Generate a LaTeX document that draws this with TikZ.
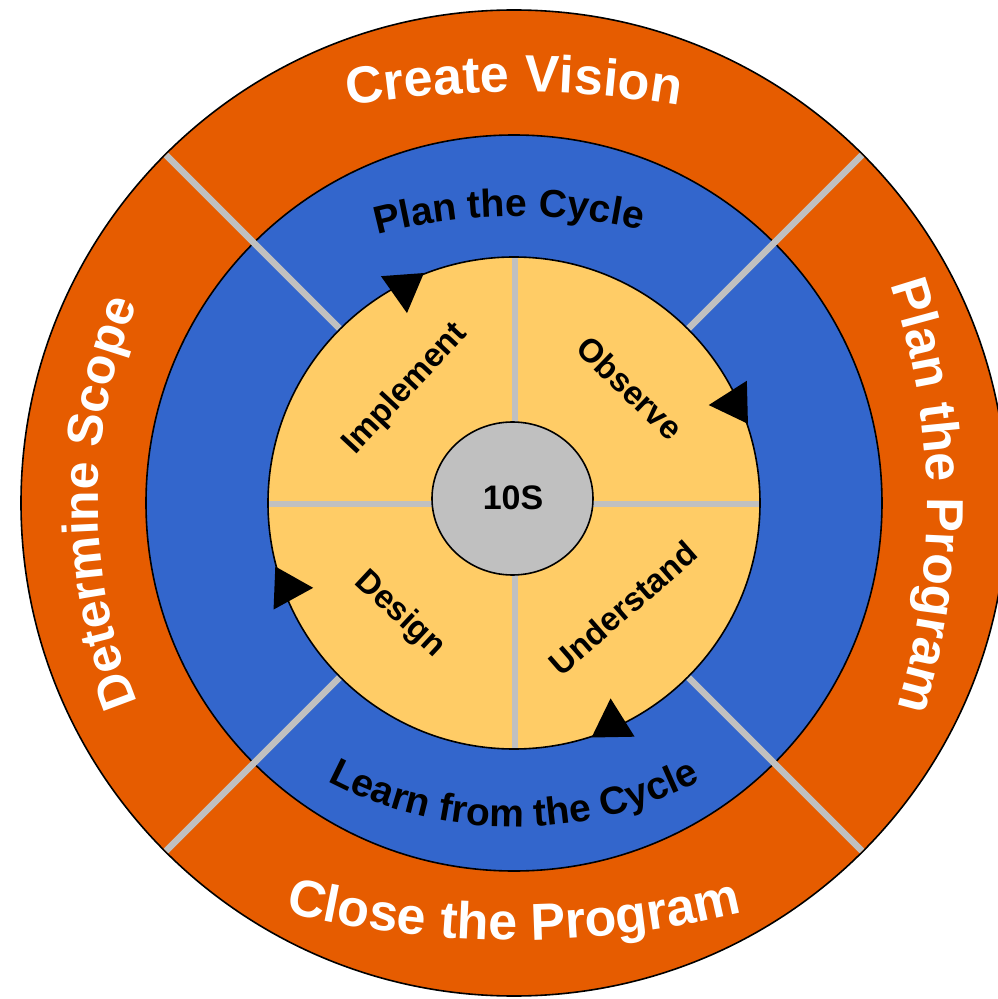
\documentclass[tikz,border=0pt]{standalone}
\usepackage{fontspec}
\setmainfont{Liberation Sans}
\usetikzlibrary{decorations.text}

\definecolor{ringorange}{HTML}{E65C00}
\definecolor{ringblue}{HTML}{3366CC}
\definecolor{ringyellow}{HTML}{FFCC66}
\definecolor{hubgray}{HTML}{C0C0C0}

\newcommand{\programfont}{\fontsize{52}{60}\selectfont\bfseries\color{white}}
\newcommand{\cyclefont}{\fontsize{39}{45}\selectfont\bfseries\color{black}}

% #1 centre angle, #2 baseline radius, #3 bend radius, #4 half span, #5 text
\newcommand{\ringlabel}[5]{%
  \path[arctext={#5}] ([shift={(#1:{#2-#3})}]{#1+#4}:#3)
    arc[start angle={#1+#4}, end angle={#1-#4}, radius=#3];}

\tikzset{
  ring/.style={draw=black, line width=1.6pt},
  spoke/.style={draw=hubgray, line width=6.5pt},
  phase/.style={font=\fontsize{33}{33}\selectfont\bfseries, text height=23.5pt, text depth=0pt, inner sep=0pt},
  arctext/.style={decorate, decoration={text along path, text align=center, text={#1}}}
}

\begin{document}
\begin{tikzpicture}[x=1pt,y=1pt]

\useasboundingbox (-514,-496) rectangle (483,503);
\fill[white] (-514,-496) rectangle (483,503);

\filldraw[ring, fill=ringorange] (0,0) circle[radius=493];
\filldraw[ring, fill=ringblue] (0,0) circle[radius=368];
\filldraw[ring, fill=ringyellow] (0,0) circle[radius=246];

\foreach \a in {45,135,225,315}
  \draw[spoke] (\a:247) -- (\a:492);
\draw[spoke] (1,-245) -- (1,245);
\draw[spoke] (-245,-1) -- (245,-1);

\filldraw[ring, fill=hubgray] (-1.5,4.5) ellipse[x radius=80.5, y radius=76.5];
\node[font=\fontsize{34}{34}\selectfont\bfseries, text height=24pt, text depth=0pt] (hub) at (-1,5.5) {10S};

\foreach \a in {119.4,26.7,-63.7,202.9}
  \fill[black] (\a:218) -- ({\a+1}:263) -- ({\a-8}:247) -- cycle;

% program ring
\ringlabel{90}{411}{1000}{15}{|\programfont|Create Vision}
\ringlabel{1}{413}{700}{22}{|\programfont|Plan the Program}
\ringlabel{180}{416}{520}{30}{|\programfont\fontsize{50}{58}\selectfont|Determine Scope}
\ringlabel{270}{437}{950}{-20}{|\programfont|Close the Program}

% cycle ring
\ringlabel{91}{287}{550}{20}{|\cyclefont|Plan the Cycle}
\ringlabel{270}{324}{400}{-36}{|\cyclefont|Learn from the Cycle}

\node[phase, rotate=47] (implement) at (-111,116) {Implement};
\node[phase, rotate=-44] (observe) at (116,115) {Observe};
\node[phase, rotate=-43] (design) at (-112,-109) {Design};
\node[phase, rotate=41] (understand) at (109,-105) {Understand};

\end{tikzpicture}
\end{document}
